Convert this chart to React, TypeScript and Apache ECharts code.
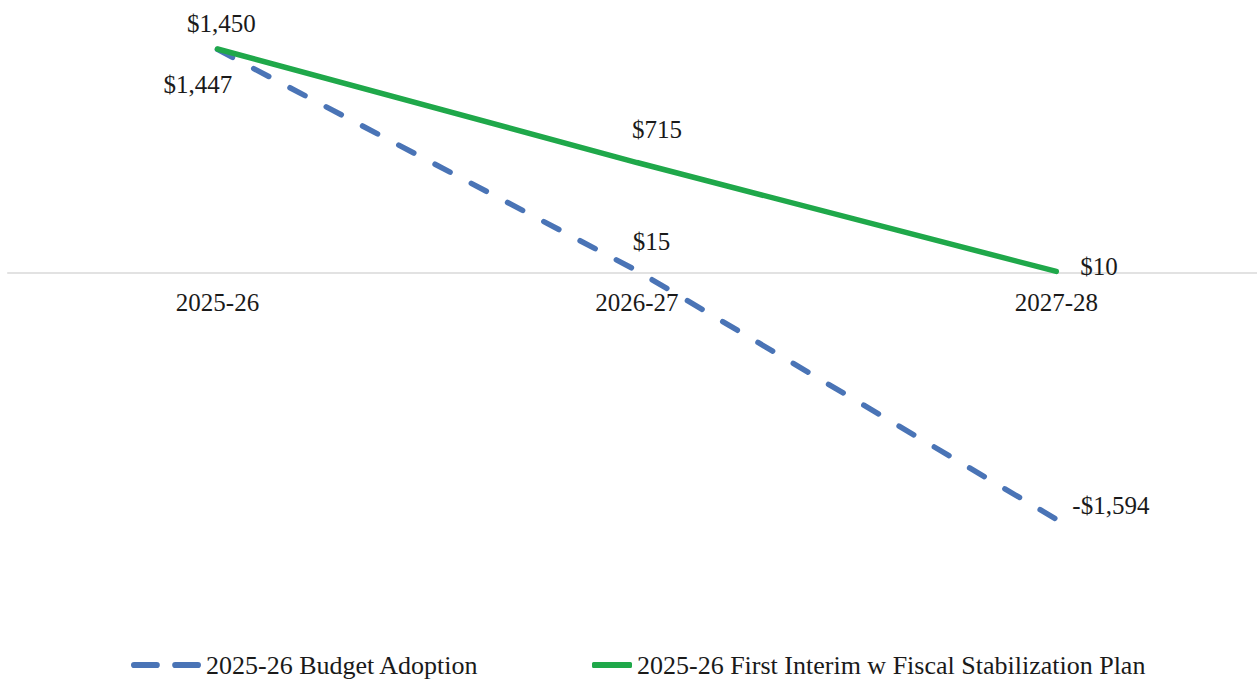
import React, { useEffect, useRef } from "react";
import * as echarts from "echarts";

const categories = ["2025-26", "2026-27", "2027-28"];
const budgetAdoption = [1447, 15, -1594];
const firstInterim = [1450, 715, 10];
const seriesNames = ["2025-26 Budget Adoption", "2025-26 First Interim w Fiscal Stabilization Plan"];

const FONT = "'Liberation Serif', 'Times New Roman', serif";
const BLUE = "#4a74b6";
const GREEN = "#1fa84a";

function fmt(v: number): string {
  const s = Math.abs(v).toLocaleString("en-US");
  return (v < 0 ? "-$" : "$") + s;
}

export default function App() {
  const ref = useRef<HTMLDivElement>(null);
  useEffect(() => {
    if (!ref.current) return;
    const chart = echarts.init(ref.current, null, { renderer: "svg" });
    const labelBase = { show: true, fontFamily: FONT, fontSize: 25, color: "#1a1a1a", formatter: (p: any) => fmt(p.value) };
    const blueLabels = [
      { position: "bottom", offset: [-19.5, 18] },
      { position: "top", offset: [14.5, -12] },
      { position: "right", offset: [11, -14] },
    ];
    const greenLabels = [
      { position: "top", offset: [4, -7.5] },
      { position: "top", offset: [20, -15] },
      { position: "right", offset: [19, -4.5] },
    ];
    chart.setOption({
      animation: false,
      backgroundColor: "#ffffff",
      grid: { left: 7.75, right: 0, top: 41.25, bottom: 99, containLabel: false },
      xAxis: {
        type: "category",
        data: categories,
        boundaryGap: true,
        offset: -309,
        axisTick: { show: false },
        axisLine: { show: true, onZero: false, lineStyle: { color: "#d9d9d9", width: 1.5 } },
        axisLabel: { fontFamily: FONT, fontSize: 25, color: "#1a1a1a", margin: 17 },
        splitLine: { show: false },
      },
      yAxis: {
        type: "value",
        min: -2000,
        max: 1500,
        show: false,
        splitLine: { show: false },
      },
      legend: [
        {
          data: [seriesNames[0]],
          left: 131,
          top: 652,
          padding: 0,
          itemWidth: 70,
          itemHeight: 7,
          icon: "path://M3,0h22a3,3 0 0 1 0,6h-22a3,3 0 0 1 0,-6z M43,0h22a3,3 0 0 1 0,6h-22a3,3 0 0 1 0,-6z",
          textStyle: { fontFamily: FONT, fontSize: 26, color: "#1a1a1a", lineHeight: 26 },
        },
        {
          data: [seriesNames[1]],
          left: 592,
          top: 652,
          padding: 0,
          itemWidth: 40,
          itemHeight: 6,
          icon: "roundRect",
          textStyle: { fontFamily: FONT, fontSize: 26, color: "#1a1a1a", lineHeight: 26 },
        },
      ],
      series: [
        {
          name: seriesNames[0],
          type: "line",
          data: budgetAdoption.map((v, i) => ({ value: v, label: { ...labelBase, ...blueLabels[i] } })),
          symbol: "circle",
          symbolSize: 0.1,
          showSymbol: true,
          lineStyle: { color: BLUE, width: 5.5, type: [17, 24], cap: "round" },
          itemStyle: { color: BLUE },
          z: 2,
        },
        {
          name: seriesNames[1],
          type: "line",
          data: firstInterim.map((v, i) => ({ value: v, label: { ...labelBase, ...greenLabels[i] } })),
          symbol: "circle",
          symbolSize: 0.1,
          showSymbol: true,
          lineStyle: { color: GREEN, width: 5.5, cap: "round" },
          itemStyle: { color: GREEN },
          z: 3,
        },
      ],
    });
    return () => chart.dispose();
  }, []);
  return <div ref={ref} style={{ position: "fixed", left: 0, top: 0, width: 1266, height: 681 }} />;
}
